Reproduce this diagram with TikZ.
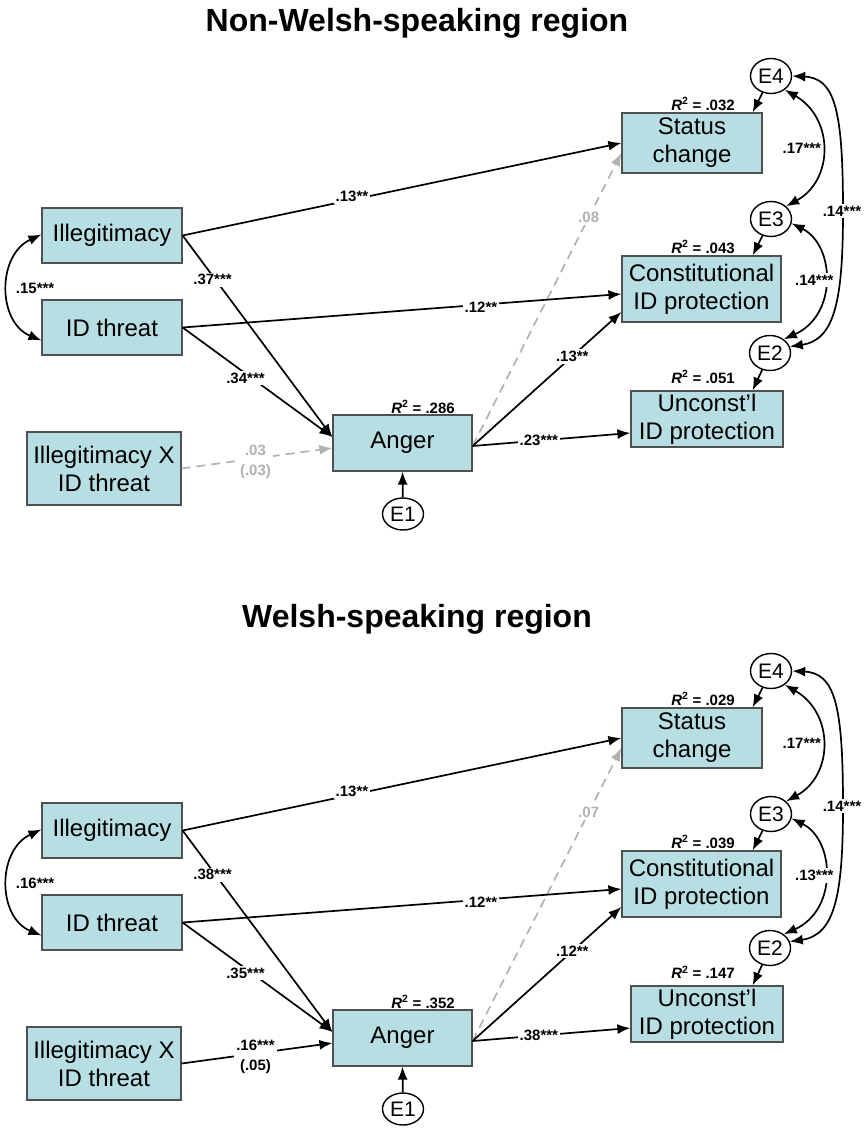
\documentclass[tikz,border=0pt]{standalone}
\usepackage{fontspec}
\setmainfont{Liberation Sans}
\usetikzlibrary{arrows.meta,calc,shapes.geometric}
\definecolor{boxfill}{RGB}{183,222,226}
\definecolor{boxline}{RGB}{80,80,80}
\definecolor{ngray}{RGB}{178,178,178}
\newcommand\rsq[1]{\textit{R}\textsuperscript{2} = #1}
\tikzset{
  box/.style={draw=boxline, fill=boxfill, line width=1.2pt, align=center, inner sep=0pt,
    font=\fontsize{24}{28}\selectfont},
  err/.style={ellipse, draw=black, line width=1.4pt, fill=white, minimum width=41pt,
    minimum height=35pt, inner sep=0pt, font=\fontsize{21}{22}\selectfont},
  arr/.style={line width=1.7pt, -{Latex[length=13pt,width=10pt]}},
  garr/.style={arr, draw=ngray, dash pattern=on 9pt off 6pt},
  carr/.style={line width=1.7pt, {Latex[length=13pt,width=10pt]}-{Latex[length=13pt,width=10pt]}},
  lbl/.style={font=\bfseries\fontsize{15}{20}\selectfont, fill=white, inner sep=2pt, align=center},
  glbl/.style={lbl, text=ngray},
  r2/.style={font=\bfseries\fontsize{15}{16}\selectfont, inner sep=0pt},
  ttl/.style={font=\bfseries\fontsize{32}{36}\selectfont, anchor=base, inner sep=0pt},
}
\newcommand\sempanel[1]{%
  \node[ttl] (#1title) at (417,32) {\Ttitle};
  \node[box, minimum width=140pt, minimum height=55pt] (#1ill) at (112,235.5) {Illegitimacy};
  \node[box, minimum width=140pt, minimum height=55pt] (#1idt) at (112,327.5) {ID threat};
  \node[box, minimum width=154pt, minimum height=73pt] (#1ix) at (104,468.5) {Illegitimacy X\\ID threat};
  \node[box, minimum width=139pt, minimum height=56pt] (#1ang) at (402.5,443) {Anger};
  \node[box, minimum width=140pt, minimum height=60pt] (#1sta) at (692,143) {Status\\change};
  \node[box, minimum width=159pt, minimum height=66pt] (#1con) at (701.5,289) {Constitutional\\ID protection};
  \node[box, minimum width=152pt, minimum height=56pt] (#1unc) at (707,419) {Unconst’l\\ID protection};
  \node[err] (#1e4) at (771,76) {E4};
  \node[err] (#1e3) at (771,219) {E3};
  \node[err] (#1e2) at (770,353) {E2};
  \node[err, minimum height=32pt] (#1e1) at (403,514) {E1};
  \node[r2] (#1r2a) at (423,407) {\rsq{\Rang}};
  \node[r2] (#1r2s) at (703,104) {\rsq{\Rsta}};
  \node[r2] (#1r2c) at (703,247) {\rsq{\Rcon}};
  \node[r2] (#1r2u) at (703,377) {\rsq{\Runc}};
  % structural paths
  \draw[garr] ([yshift=-3pt]#1ang.east) -- node[glbl,pos=.78]{\Lasta} ([yshift=-10pt]#1sta.west);
  \draw[ixarr] (#1ix.east) -- node[ixlbl,pos=.49,yshift=-3pt]{\Lix} ([yshift=-5pt]#1ang.west);
  \draw[arr] (#1ill.east) -- node[lbl,pos=.386,yshift=3pt]{\Lista} (#1sta.west);
  \draw[arr] (#1ill.east) -- node[lbl,pos=.22,xshift=-3pt]{\Lill} ([yshift=6pt]#1ang.west);
  \draw[arr] (#1idt.east) -- node[lbl,pos=.46,xshift=-6pt]{\Lidt} ([yshift=6pt]#1ang.west);
  \draw[arr] (#1idt.east) -- node[lbl,pos=.68,yshift=-3pt]{\Lidc} ([yshift=-5pt]#1con.west);
  \draw[arr] ([yshift=-3pt]#1ang.east) -- node[lbl,pos=.67]{\Lacon} ([yshift=-23pt]#1con.west);
  \draw[arr] ([yshift=-3pt]#1ang.east) -- node[lbl,pos=.42]{\Launc} ([yshift=-14pt]#1unc.west);
  \draw[arr] (#1e1) -- (#1ang.south);
  \draw[arr] (#1e4) -- ([xshift=-10pt]#1sta.north east);
  \draw[arr] (#1e3) -- ([xshift=-29pt]#1con.north east);
  \draw[arr] (#1e2) -- ([xshift=-31pt]#1unc.north east);
  % covariances
  \draw[carr] ([yshift=1pt]#1ill.west) .. controls (-3,255) and (-3,322) ..
     node[lbl, fill=none, pos=.5, anchor=west, xshift=5pt]{\Lcov} ([yshift=-13pt]#1idt.west);
  \draw[carr] (#1e4.-45) .. controls (834,118) and (834,180) ..
     node[lbl, pos=.5, xshift=-20pt]{\Lse} (#1e3.40);
  \draw[carr] (#1e3.-12) .. controls (835,245) and (838,315) ..
     node[lbl, pos=.5, xshift=-10pt]{\Lcu} (#1e2.45);
  \draw[carr] (#1e4.0) .. controls (835,78) and (843,110) .. (843,211)
     node[lbl, xshift=-1pt]{\Lsu} .. controls (843,300) and (835,340) .. (#1e2.18);
}
\begin{document}
\begin{tikzpicture}[x=1pt, y=-1pt]
\useasboundingbox (0,0) rectangle (863,1129);
\begin{scope}
  \tikzset{ixarr/.style={garr}, ixlbl/.style={glbl}}
  \def\Ttitle{Non-Welsh-speaking region}
  \def\Rang{.286}\def\Rsta{.032}\def\Rcon{.043}\def\Runc{.051}
  \def\Lcov{.15***}\def\Lista{.13**}\def\Lill{.37***}\def\Lidt{.34***}
  \def\Lidc{.12**}\def\Lix{.03\\(.03)}\def\Lasta{.08}\def\Lacon{.13**}
  \def\Launc{.23***}\def\Lse{.17***}\def\Lcu{.14***}\def\Lsu{.14***}
  \sempanel{a}
\end{scope}
\begin{scope}[shift={(0,595)}]
  \tikzset{ixarr/.style={arr}, ixlbl/.style={lbl}}
  \def\Ttitle{Welsh-speaking region}
  \def\Rang{.352}\def\Rsta{.029}\def\Rcon{.039}\def\Runc{.147}
  \def\Lcov{.16***}\def\Lista{.13**}\def\Lill{.38***}\def\Lidt{.35***}
  \def\Lidc{.12**}\def\Lix{.16***\\(.05)}\def\Lasta{.07}\def\Lacon{.12**}
  \def\Launc{.38***}\def\Lse{.17***}\def\Lcu{.13***}\def\Lsu{.14***}
  \sempanel{b}
\end{scope}
\end{tikzpicture}
\end{document}
